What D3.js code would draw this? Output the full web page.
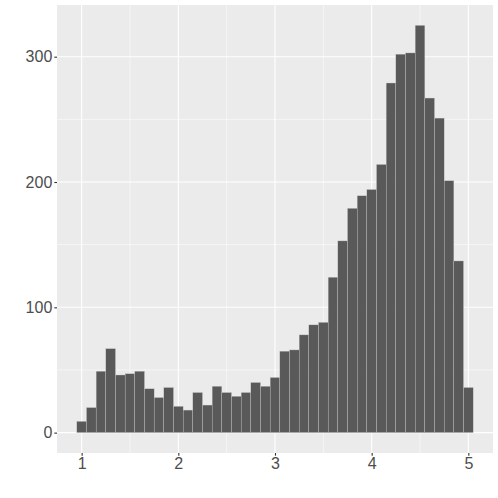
<!DOCTYPE html>
<html>
<head>
<meta charset="utf-8">
<script src="https://cdn.jsdelivr.net/npm/d3@7"></script>
<style>
  html, body { margin: 0; padding: 0; background: #ffffff; }
  svg { display: block; }
</style>
</head>
<body>
<svg id="chart" width="498" height="498"></svg>
<script>
// Bin centers (binwidth 0.1) and counts
const binCenters = [1.0,1.1,1.2,1.3,1.4,1.5,1.6,1.7,1.8,1.9,2.0,2.1,2.2,2.3,2.4,2.5,2.6,2.7,2.8,2.9,3.0,3.1,3.2,3.3,3.4,3.5,3.6,3.7,3.8,3.9,4.0,4.1,4.2,4.3,4.4,4.5,4.6,4.7,4.8,4.9,5.0];
const counts = [9,20,49,67,46,47,49,35,28,36,21,18,32,22,37,32,29,32,40,37,44,65,66,78,86,88,124,153,179,189,194,214,279,302,303,325,267,251,201,137,36];
const binWidth = 0.1;
const xTicks = [1,2,3,4,5];
const xMinor = [1.5,2.5,3.5,4.5];
const yTicks = [0,100,200,300];
const yMinor = [50,150,250];

const svg = d3.select("#chart");
const panel = {left: 57, right: 493, top: 5, bottom: 453};

const xMin = d3.min(binCenters) - binWidth/2, xMax = d3.max(binCenters) + binWidth/2;
const xPad = (xMax - xMin) * 0.05;
const x = d3.scaleLinear().domain([xMin - xPad, xMax + xPad]).range([panel.left, panel.right]);
const yMaxV = d3.max(counts);
const yPad = yMaxV * 0.05;
const y = d3.scaleLinear().domain([-yPad, yMaxV + yPad]).range([panel.bottom, panel.top]);

// panel background
svg.append("rect")
  .attr("x", panel.left).attr("y", panel.top)
  .attr("width", panel.right - panel.left).attr("height", panel.bottom - panel.top)
  .attr("fill", "#ebebeb");

const g = svg.append("g");
// minor grid
g.selectAll(".xminor").data(xMinor).enter().append("line")
  .attr("x1", d => x(d)).attr("x2", d => x(d))
  .attr("y1", panel.top).attr("y2", panel.bottom)
  .attr("stroke", "#ffffff").attr("stroke-width", 0.55);
g.selectAll(".yminor").data(yMinor).enter().append("line")
  .attr("y1", d => y(d)).attr("y2", d => y(d))
  .attr("x1", panel.left).attr("x2", panel.right)
  .attr("stroke", "#ffffff").attr("stroke-width", 0.55);
// major grid
g.selectAll(".xmajor").data(xTicks).enter().append("line")
  .attr("x1", d => x(d)).attr("x2", d => x(d))
  .attr("y1", panel.top).attr("y2", panel.bottom)
  .attr("stroke", "#ffffff").attr("stroke-width", 1.1);
g.selectAll(".ymajor").data(yTicks).enter().append("line")
  .attr("y1", d => y(d)).attr("y2", d => y(d))
  .attr("x1", panel.left).attr("x2", panel.right)
  .attr("stroke", "#ffffff").attr("stroke-width", 1.1);

// bars
const data = binCenters.map((c, i) => ({c, n: counts[i]}));
svg.append("g").selectAll("rect").data(data).enter().append("rect")
  .attr("x", d => x(d.c - binWidth/2))
  .attr("width", d => x(d.c + binWidth/2) - x(d.c - binWidth/2))
  .attr("y", d => y(d.n))
  .attr("height", d => y(0) - y(d.n))
  .attr("fill", "#595959")
  .attr("stroke", "#c8c8c8")
  .attr("stroke-width", 0.35);

// axes
const xAxis = d3.axisBottom(x).tickValues(xTicks).tickFormat(d3.format("d")).tickSize(2.7).tickPadding(2);
const yAxis = d3.axisLeft(y).tickValues(yTicks).tickFormat(d3.format("d")).tickSize(2.7).tickPadding(2);

const gx = svg.append("g").attr("transform", `translate(0,${panel.bottom})`).call(xAxis);
const gy = svg.append("g").attr("transform", `translate(${panel.left},0)`).call(yAxis);
[gx, gy].forEach(a => {
  a.select(".domain").remove();
  a.selectAll(".tick line").attr("stroke", "#333333").attr("stroke-width", 1.1);
  a.selectAll(".tick text")
    .attr("fill", "#4d4d4d")
    .style("font-family", "'Liberation Sans', Arial, sans-serif")
    .style("font-size", "16px");
});
</script>
</body>
</html>
